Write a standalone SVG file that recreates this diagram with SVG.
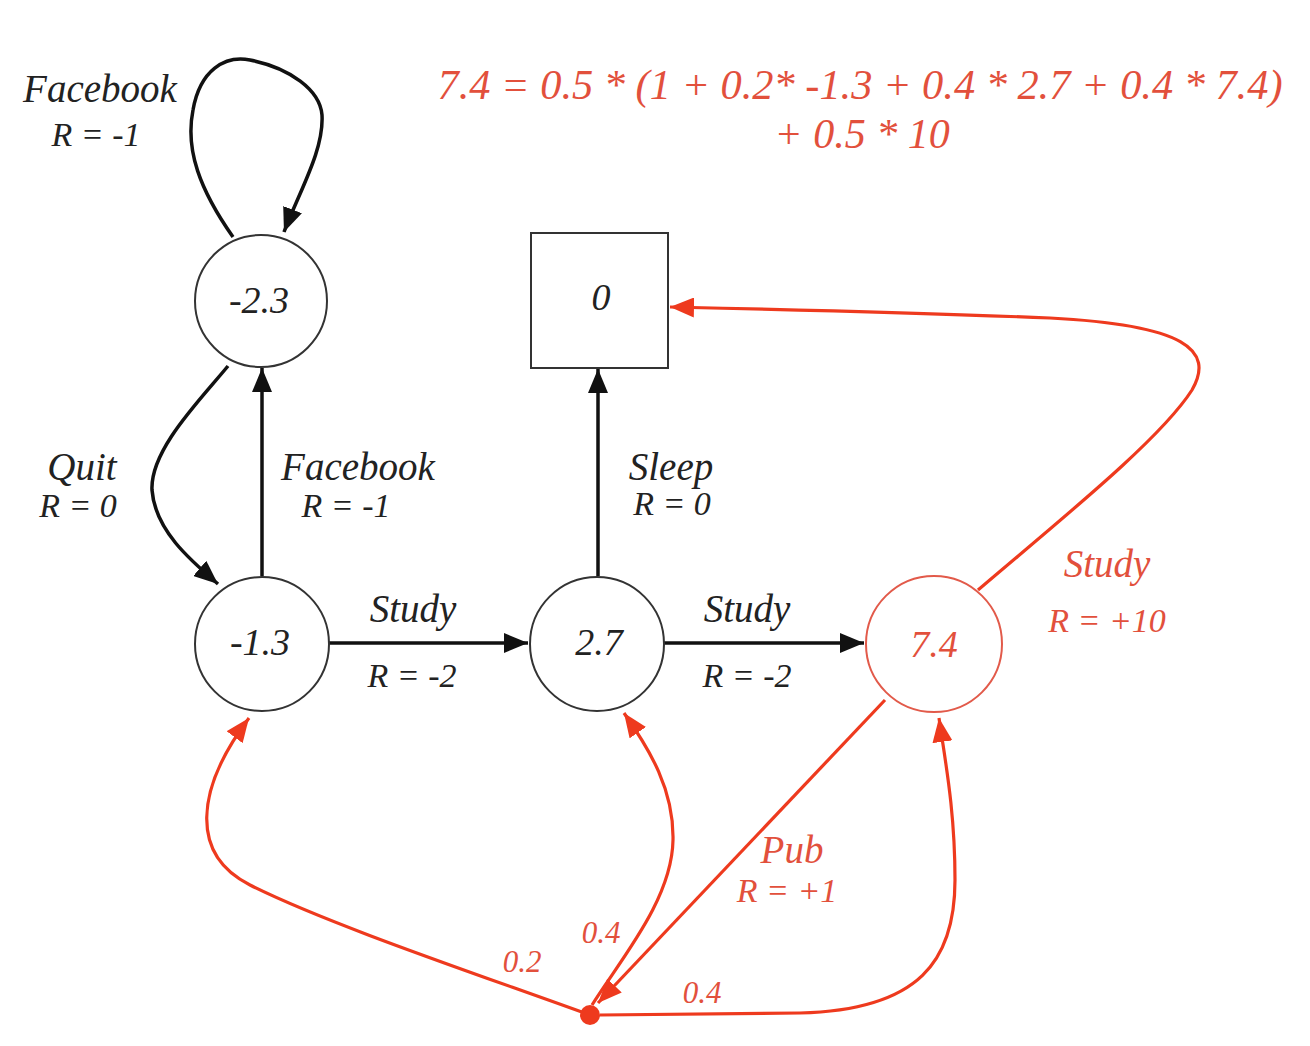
<svg xmlns="http://www.w3.org/2000/svg" width="1310" height="1046" viewBox="0 0 1310 1046">
<style>
.t{font-family:"Liberation Serif","Times New Roman",serif;font-style:italic;text-anchor:middle;fill:#222}
.r{fill:#e2503c}
.big{font-size:39px}
.nd{font-size:38px}
.mid{font-size:34px}
.sm{font-size:31px}
.node{fill:#fff;stroke:#333;stroke-width:2}
.rnode{fill:#fff;stroke:#e25a4a;stroke-width:2}
.e{fill:none;stroke:#111;stroke-width:3.5}
.re{fill:none;stroke:#ee3a1e;stroke-width:3.2}
</style>
<defs>
<marker id="ab" markerUnits="userSpaceOnUse" markerWidth="24" markerHeight="20" refX="24" refY="10" orient="auto"><path d="M0,0 L24,10 L0,20 z" fill="#111"/></marker>
<marker id="ar" markerUnits="userSpaceOnUse" markerWidth="24" markerHeight="20" refX="24" refY="10" orient="auto"><path d="M0,0 L24,10 L0,20 z" fill="#ee3a1e"/></marker>
</defs>
<rect width="1310" height="1046" fill="#fff"/>
<g id="equation">
<text class="t r" x="860" y="99" font-size="42" textLength="845" lengthAdjust="spacingAndGlyphs">7.4 = 0.5 * (1 + 0.2* -1.3 + 0.4 * 2.7 + 0.4 * 7.4)</text>
<text class="t r" x="862" y="148" font-size="42">+ 0.5 * 10</text>
</g>
<g id="connectors">
<path class="e" d="M233,237 C200,190 185,150 193,110 C200,70 225,55 250,60 C290,68 320,90 322,115 C324,150 300,190 284,232" marker-end="url(#ab)"/>
<path class="e" d="M228,366 C200,400 150,450 152,490 C155,530 190,560 218,584" marker-end="url(#ab)"/>
<path class="e" d="M262,576 L262,368" marker-end="url(#ab)"/>
<path class="e" d="M329,643 L528,643" marker-end="url(#ab)"/>
<path class="e" d="M664,643 L864,643" marker-end="url(#ab)"/>
<path class="e" d="M598,576 L598,369" marker-end="url(#ab)"/>
<path class="re" d="M978,590 C1060,520 1160,440 1192,390 C1215,350 1185,325 1050,318 C900,312 760,309 670,307" marker-end="url(#ar)"/>
<path class="re" d="M885,700 L598,1003" marker-end="url(#ar)"/>
<path class="re" d="M590,1015 C480,975 330,925 250,885 C190,855 195,790 249,718" marker-end="url(#ar)"/>
<path class="re" d="M592,1005 C620,960 672,900 673,840 C674,790 650,750 624,713" marker-end="url(#ar)"/>
<path class="re" d="M600,1015 L800,1013 C920,1010 955,960 955,880 C955,810 945,760 939,718" marker-end="url(#ar)"/>
</g>
<g id="edge-labels">
<text class="t big" x="100" y="102">Facebook</text>
<text class="t mid" x="96" y="146">R = -1</text>
<text class="t big" x="82" y="480">Quit</text>
<text class="t mid" x="78" y="517">R = 0</text>
<text class="t big" x="358" y="480">Facebook</text>
<text class="t mid" x="346" y="517">R = -1</text>
<text class="t big" x="413" y="622">Study</text>
<text class="t mid" x="412" y="687">R = -2</text>
<text class="t big" x="671" y="480">Sleep</text>
<text class="t mid" x="672" y="515">R = 0</text>
<text class="t big" x="747" y="622">Study</text>
<text class="t mid" x="747" y="687">R = -2</text>
<text class="t r big" x="1107" y="577">Study</text>
<text class="t r mid" x="1107" y="632">R = +10</text>
<text class="t r big" x="792" y="863">Pub</text>
<text class="t r mid" x="787" y="902">R = +1</text>
<text class="t r sm" x="601" y="943">0.4</text>
<text class="t r sm" x="522" y="972">0.2</text>
<text class="t r sm" x="702" y="1003">0.4</text>
</g>
<g id="n-facebook">
<circle class="node" cx="261" cy="301" r="66"/>
<text class="t nd" x="259" y="313">-2.3</text>
</g>
<g id="n-class1">
<circle class="node" cx="262" cy="644" r="67"/>
<text class="t nd" x="260" y="655">-1.3</text>
</g>
<g id="n-class2">
<circle class="node" cx="597" cy="644" r="67"/>
<text class="t nd" x="599" y="655">2.7</text>
</g>
<g id="n-class3">
<circle class="rnode" cx="934" cy="644" r="68"/>
<text class="t r nd" x="934" y="657">7.4</text>
</g>
<g id="n-sleep">
<rect class="node" x="531" y="233" width="137" height="135"/>
<text class="t nd" x="601" y="310">0</text>
</g>
<g id="n-pub">
<circle cx="590" cy="1015" r="10" fill="#ee3a1e"/>
</g>
</svg>
